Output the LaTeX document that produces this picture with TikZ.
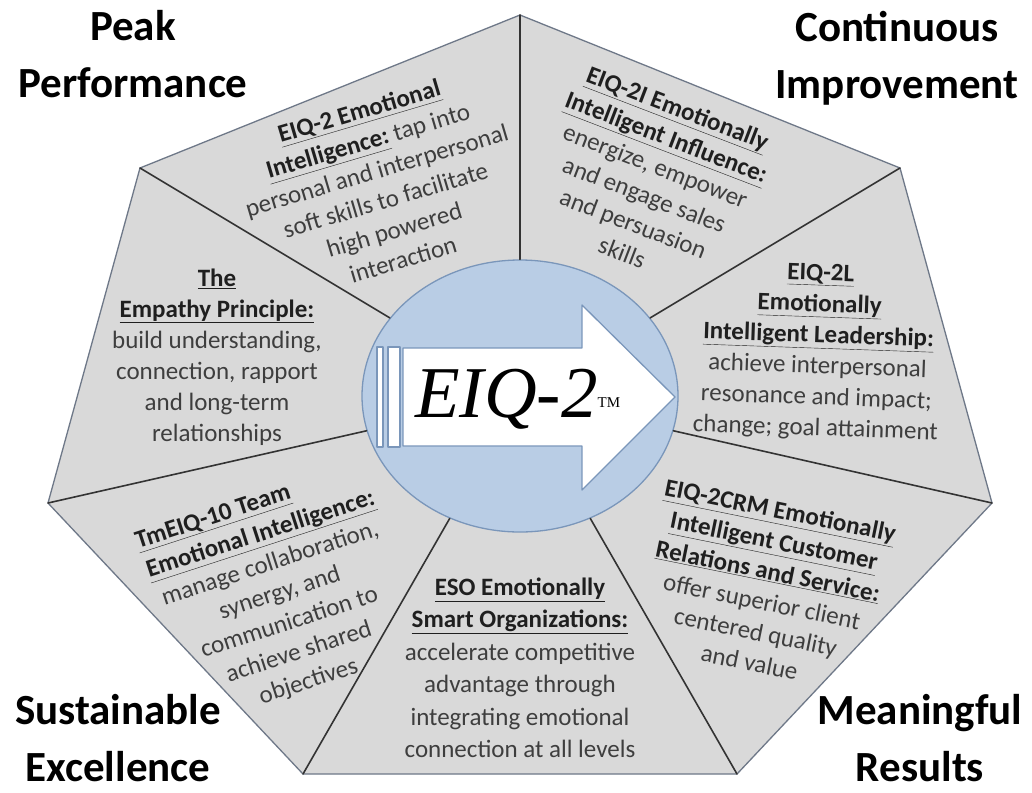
\documentclass[tikz,border=0pt]{standalone}
\usepackage{fontspec}
\setmainfont{Carlito}
\newfontfamily\brandfont{Liberation Serif}
\usetikzlibrary{shapes.geometric}

\definecolor{sectorgray}{RGB}{217,217,217}
\definecolor{rimline}{RGB}{110,120,136}
\definecolor{hubblue}{RGB}{185,205,229}
\definecolor{hubline}{RGB}{122,150,186}
\definecolor{bodytext}{RGB}{62,62,62}

\tikzset{
  corner/.style={font=\bfseries\fontsize{43}{57}\selectfont, align=center, anchor=base, inner sep=0pt},
  blurb/.style={font=\fontsize{25}{31}\selectfont, text=bodytext, align=center, inner sep=0pt},
  divider/.style={draw=black!80, line width=1.6pt},
}
\newcommand{\head}[1]{\textbf{\color{black!88}\underline{#1}}}

\begin{document}
\begin{tikzpicture}[x=1pt, y=-1pt, line join=round, line cap=round]
  \useasboundingbox (0,0) rectangle (1032,792);
  \fill[white] (0,0) rectangle (1032,792);
  % corners of the heptagon
  \coordinate (vT)  at (520,15);
  \coordinate (vTL) at (140,168);
  \coordinate (vTR) at (900,168);
  \coordinate (vL)  at (48,503);
  \coordinate (vR)  at (992,503);
  \coordinate (vBL) at (303,774);
  \coordinate (vBR) at (737,774);
  \filldraw[fill=sectorgray, draw=rimline, line width=1.3pt]
    (vT) -- (vTR) -- (vR) -- (vBR) -- (vBL) -- (vL) -- (vTL) -- cycle;
  % hub and spokes
  \node[ellipse, fill=hubblue, draw=hubline, line width=1.3pt, inner sep=0pt,
        minimum width=316, minimum height=272] (hub) at (520,396) {};
  \foreach \v in {vT,vTR,vR,vBR,vBL,vL,vTL}
    \draw[divider] (\v) -- (hub);
  % block arrow with its two tail strips
  \begin{scope}[fill=white, draw=hubline, line width=1.3pt]
    \filldraw (377,347) rectangle (383,447);
    \filldraw (388,347) rectangle (400,447);
    \filldraw (403,348) -- (582,348) -- (582,305) -- (675,397)
      -- (582,490) -- (582,446) -- (403,446) -- cycle;
  \end{scope}
  \node[anchor=base west, inner sep=0pt] (brand) at (415,417)
    {\brandfont\itshape\fontsize{73}{73}\selectfont EIQ-2\raisebox{10pt}{\upshape\fontsize{15}{15}\selectfont TM}};
  % sector texts
  \node[blurb, rotate=16.5] (eiq) at (381,185)
    {\head{EIQ-2 Emotional}\\ \head{Intelligence:} tap into\\ personal and interpersonal\\
     soft skills to facilitate\\ high powered\\ interaction};
  \node[blurb, rotate=-21] (influence) at (650,180)
    {\head{EIQ-2I Emotionally}\\ \head{Intelligent Influence:}\\ energize, empower\\
     and engage sales\\ and persuasion\\ skills};
  \node[blurb] (empathy) at (217,357)
    {\head{The}\\ \head{Empathy Principle:}\\ build understanding,\\ connection, rapport\\
     and long-term\\ relationships};
  \node[blurb, rotate=-2] (leader) at (818,352)
    {\head{EIQ-2L}\\ \head{Emotionally}\\ \head{Intelligent Leadership:}\\ achieve interpersonal\\
     resonance and impact;\\ change; goal attainment};
  \node[blurb, rotate=18] (team) at (280,594)
    {\head{TmEIQ-10 Team}\hspace*{3.2em}\\ \head{Emotional Intelligence:}\\ manage collaboration,\\
     synergy, and\\ communication to\\ achieve shared\\ objectives};
  \node[blurb, rotate=-11.5] (crm) at (765,586)
    {\head{EIQ-2CRM Emotionally}\\ \head{Intelligent Customer}\\ \head{Relations and Service:}\\
     offer superior client\\ centered quality\\ and value};
  \node[blurb, font=\fontsize{25}{32.5}\selectfont] (eso) at (520,668)
    {\head{ESO Emotionally}\\ \head{Smart Organizations:}\\ accelerate competitive\\
     advantage through\\ integrating emotional\\ connection at all levels};
  % outcome labels (anchored on the baseline of the lower line)
  \node[corner] (peak) at (133,97) {Peak\\Performance};
  \node[corner] (continuous) at (897,98) {Continuous\\Improvement};
  \node[corner] (sustain) at (118,781) {Sustainable\\Excellence};
  \node[corner] (meaning) at (920,781) {Meaningful\\Results};
\end{tikzpicture}
\end{document}
